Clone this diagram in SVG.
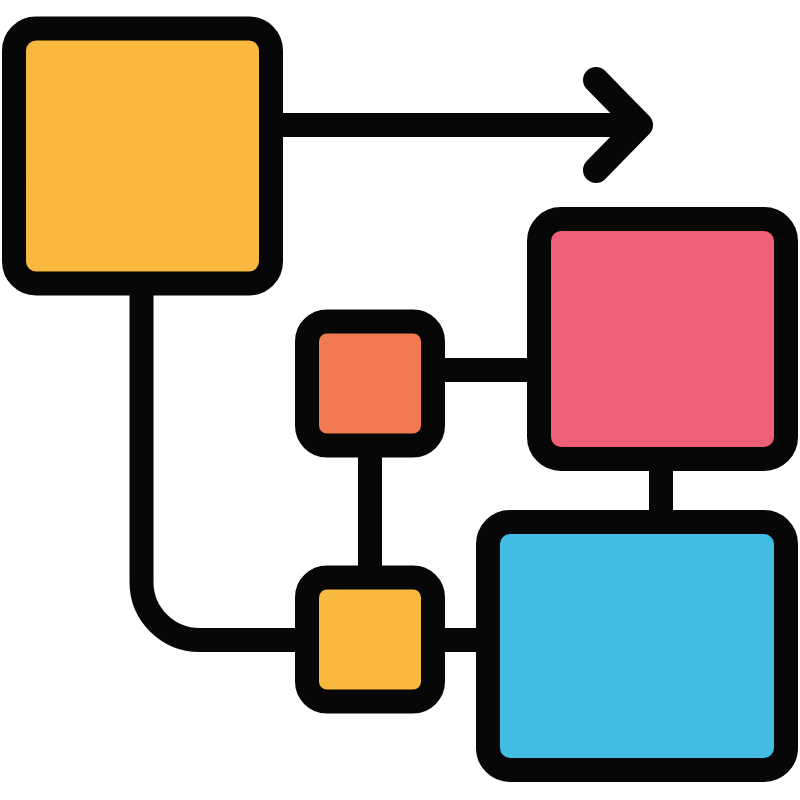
<svg xmlns="http://www.w3.org/2000/svg" width="800" height="800" viewBox="0 0 800 800">
<style>
.conn{fill:none;stroke:#070707;stroke-width:24;stroke-linecap:butt;stroke-linejoin:round}
.arrow{fill:none;stroke:#070707;stroke-width:26;stroke-linecap:round;stroke-linejoin:round}
.box{stroke:#070707;stroke-width:24}
.yellow{fill:#F9B83E}
.orange{fill:#F27A52}
.pink{fill:#EF5F78}
.blue{fill:#43BCE4}
</style>
<rect width="800" height="800" fill="#ffffff"/>
<g id="connectors">
<line class="conn" x1="270" y1="125" x2="635" y2="125"/>
<polyline class="arrow" points="596,80 640,125 596,170"/>
<path class="conn" d="M141.5 284 V582 A58 58 0 0 0 199.5 640 H310"/>
<line class="conn" x1="430" y1="370" x2="545" y2="370"/>
<line class="conn" x1="370" y1="445" x2="370" y2="580"/>
<line class="conn" x1="430" y1="640" x2="500" y2="640"/>
<line class="conn" x1="661" y1="455" x2="661" y2="525"/>
</g>
<g id="node-top-left">
<rect class="box yellow" x="14" y="28.5" width="257" height="255" rx="22"/>
</g>
<g id="node-orange">
<rect class="box orange" x="307" y="321.5" width="126" height="124" rx="20"/>
</g>
<g id="node-small-yellow">
<rect class="box yellow" x="307" y="577.5" width="126" height="124" rx="20"/>
</g>
<g id="node-pink">
<rect class="box pink" x="539" y="219" width="247" height="240" rx="22"/>
</g>
<g id="node-blue">
<rect class="box blue" x="488" y="522" width="298" height="248" rx="22"/>
</g>
</svg>
